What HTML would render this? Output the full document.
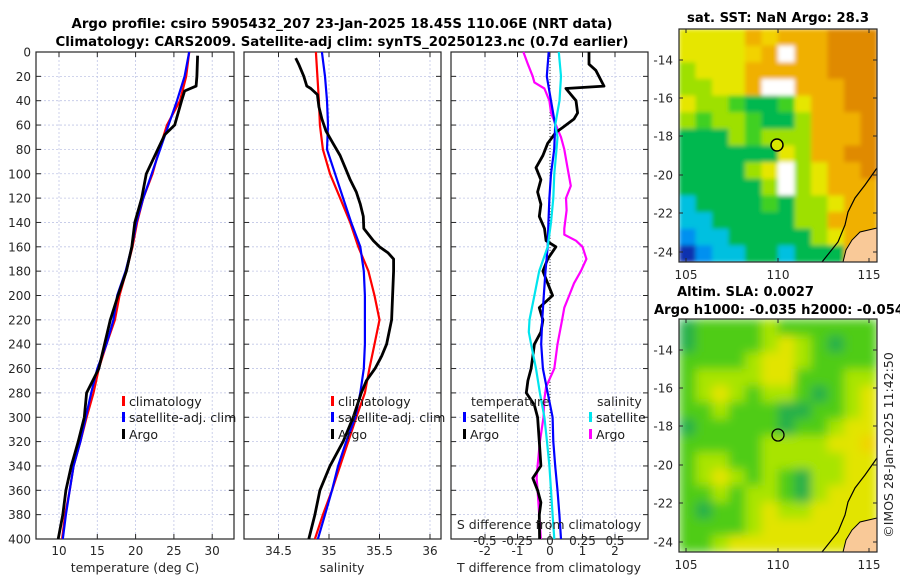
<!DOCTYPE html>
<html><head><meta charset="utf-8">
<style>
html,body{margin:0;padding:0;background:#fff;}
svg{display:block;font-family:"DejaVu Sans","Liberation Sans",sans-serif;}
</style></head>
<body>
<svg id="fig" width="900" height="580" viewBox="0 0 900 580" xmlns="http://www.w3.org/2000/svg">
<defs>
<filter id="soft" x="0" y="0" width="1" height="1"><feGaussianBlur stdDeviation="5" edgeMode="duplicate"/></filter>
<filter id="soft2" x="0" y="0" width="1" height="1"><feGaussianBlur stdDeviation="2" edgeMode="duplicate"/></filter>
<clipPath id="clipSst"><rect x="679" y="29" width="198" height="233"/></clipPath>
<clipPath id="clipSla"><rect x="679" y="319" width="198" height="233"/></clipPath>
</defs>
<rect width="900" height="580" fill="#fff"/>
<text x="342" y="28" font-size="13" font-weight="bold" text-anchor="middle" textLength="541" lengthAdjust="spacingAndGlyphs">Argo profile: csiro 5905432_207 23-Jan-2025 18.45S 110.06E (NRT data)</text>
<text x="342" y="46" font-size="13" font-weight="bold" text-anchor="middle" textLength="573" lengthAdjust="spacingAndGlyphs">Climatology: CARS2009. Satellite-adj clim: synTS_20250123.nc (0.7d earlier)</text>
<g id="charts"></g>
<g id="maps"></g>
<text x="778" y="22" font-size="13" font-weight="bold" text-anchor="middle" textLength="182" lengthAdjust="spacingAndGlyphs">sat. SST: NaN Argo: 28.3</text>
<text x="677" y="296" font-size="13" font-weight="bold" textLength="137" lengthAdjust="spacingAndGlyphs">Altim. SLA: 0.0027</text>
<text x="654" y="314" font-size="13" font-weight="bold" textLength="250" lengthAdjust="spacingAndGlyphs">Argo h1000: -0.035 h2000: -0.054</text>
<text transform="translate(893,445) rotate(-90)" font-size="12.5" fill="#262626" text-anchor="middle">©IMOS 28-Jan-2025 11:42:50</text>
</svg>
<script>
// ---------- data ----------
const depthTick = [0,20,40,60,80,100,120,140,160,180,200,220,240,260,280,300,320,340,360,380,400];
const tempTicks = [10,15,20,25,30];
const salTicks = [34.5,35,35.5,36];
const tdiffTicks = [-2,-1,0,1,2];
const sdiffTicks = [-0.5,-0.25,0,0.25,0.5];
const sdiffLabels = ["-0.5","-0.25","0","0.25","0.5"];

const tArgoD = [3,20,28,32,40,60,68,80,100,120,140,160,180,200,220,260,280,300,320,340,360,380,400];
const tArgo  = [28.1,28.0,27.9,26.4,26.0,25.1,23.8,22.9,21.4,20.8,19.9,19.5,18.8,17.7,16.7,15.2,13.6,13.3,12.5,11.6,10.9,10.5,9.9];
const tClimD = [0,20,40,60,80,100,120,140,160,180,200,220,240,260,280,300,320,340,360,380,400];
const tClim  = [27.0,26.6,25.8,24.1,23.1,22.2,21.0,20.2,19.6,18.8,17.9,17.3,16.2,15.2,14.5,13.6,12.8,11.9,11.4,10.8,10.4];
const tSat   = [27.0,26.4,25.4,24.3,23.2,22.1,21.0,20.1,19.5,18.7,17.6,17.1,16.2,15.0,14.2,13.5,12.8,11.9,11.4,10.9,10.5];

const sArgoD = [5,10,20,28,30,35,45,55,65,75,85,95,105,115,125,135,145,155,160,165,170,180,200,220,240,250,260,270,280,300,320,340,360,380,400];
const sArgo  = [34.67,34.70,34.75,34.78,34.82,34.885,34.90,34.93,34.97,35.04,35.11,35.16,35.21,35.27,35.31,35.34,35.345,35.44,35.50,35.585,35.64,35.64,35.63,35.62,35.57,35.52,35.455,35.37,35.32,35.24,35.14,35.01,34.91,34.86,34.80];
const sClim  = [34.87,34.885,34.90,34.91,34.94,35.01,35.11,35.21,35.29,35.39,35.45,35.50,35.45,35.40,35.355,35.27,35.19,35.11,35.03,34.94,34.86];
const sSat   = [34.93,34.96,34.98,34.99,34.98,35.06,35.14,35.22,35.31,35.345,35.355,35.355,35.355,35.345,35.31,35.26,35.17,35.09,35.03,34.96,34.89];

const dtArgoD = [0,10,15,28,30,40,50,55,62,66,75,85,95,105,115,125,135,145,155,160,170,180,190,200,210,220,230,240,250,260,270,280,290,300,320,340,350,360,370,380,400];
const dtArgo  = [1.2,1.2,1.41,1.66,0.49,0.8,0.85,0.74,0.39,0.18,-0.07,-0.22,-0.43,-0.28,-0.38,-0.28,-0.33,-0.17,-0.12,0.18,-0.07,-0.22,-0.07,0.08,-0.33,-0.22,-0.28,-0.48,-0.53,-0.58,-0.68,-0.73,-0.48,-0.38,-0.33,-0.28,-0.53,-0.38,-0.28,-0.33,-0.32];
const dtSat   = [-0.04,-0.1,0.03,0.16,0.13,0.03,-0.02,-0.05,-0.07,-0.14,-0.19,-0.24,-0.27,-0.22,-0.07,0.08,0.1,0.16,0.23,0.29,0.34];
const dsSatD  = [0,20,40,60,70,80,100,120,140,160,180,200,220,230,240,260,280,300,320,340,360,380,400];
const dsSat   = [0.068,0.085,0.073,0.04,0.058,0.05,0.033,0.025,0.008,-0.018,-0.083,-0.12,-0.158,-0.163,-0.145,-0.108,-0.078,-0.043,-0.023,-0.005,0.008,0.02,0.033];
const dsArgoD = [0,10,20,25,30,40,50,60,70,80,95,110,120,130,145,150,155,160,170,180,190,200,210,220,240,260,275,285,300,320,340,350,360,380,400];
const dsArgo  = [-0.205,-0.17,-0.133,-0.12,-0.043,-0.005,0.008,0.045,0.085,0.11,0.135,0.16,0.123,0.128,0.11,0.11,0.2,0.25,0.28,0.238,0.185,0.148,0.11,0.093,0.058,0.033,-0.03,-0.043,-0.05,-0.078,-0.095,-0.103,-0.095,-0.083,-0.07];

// map grids (12 cols x 14 rows), colour codes
const sstGrid = [
"YYYYOyOOORRR","YYYYyOWOORRR","LYYYOOOOORRR","LLYYOWWOOORR",
"YLLgGGgYOORR","LgLLgGGLOOOR","GGGLgLLLOOOR","GGGGGGYLOORR",
"GGGGLYWLYOOR","GGGGGLWLYOOO","cGGGGgGLLYOO","ccGGGGGLLOOO",
"bccGGGGGLYOO","BbccGGcGGGOO"];
const slaGrid = [
"DGGGGLGGGGGG","DGGGGLYLGDGG","GGGGLYYLGGGG","GLLLLYYGGGLL",
"GLYLGLLGDGLY","GGLGGGDDGGLY","DGGGGGDGGLYY","GGGGGLLLLYYy",
"GLLGGLLLLLYY","GLYLGLGDLLYY","GGLGLLGDLYYY","GDGGLYLLYYYY",
"GGGGLYYYYYYY","GGLYYYYYYYYY"];

// ---------- helpers ----------
const NS="http://www.w3.org/2000/svg";
const charts=document.getElementById('charts');
const mapsG=document.getElementById('maps');
function mk(tag,attrs,parent){const e=document.createElementNS(NS,tag);for(const k in attrs)e.setAttribute(k,attrs[k]);(parent||charts).appendChild(e);return e;}
const Y0=52, YS=487/400;
function yD(d){return Y0+d*YS;}
const panels=[{x0:36,x1:234},{x0:244,x1:441},{x0:451,x1:648}];
function xT(t){return 59+(t-10)*7.66;}
function xS(s){return 329+(s-35)*101;}
function xDT(v){return 550+v*32.5;}
function xDS(v){return 550+v*4*32.5;}

panels.forEach((p,i)=>{
  const g=mk('g',{});
  
  
  depthTick.forEach(d=>{
    const l=mk('line',{x1:p.x0,x2:p.x1,y1:yD(d),y2:yD(d),stroke:'#c0c6e6','stroke-width':0.8,'stroke-dasharray':'2,2'},g);
    
    
    mk('line',{x1:p.x0,x2:p.x0+5,y1:yD(d),y2:yD(d),stroke:'#262626','stroke-width':1},g);
    mk('line',{x1:p.x1-5,x2:p.x1,y1:yD(d),y2:yD(d),stroke:'#262626','stroke-width':1},g);
  });
  const ticks = i===0?tempTicks.map(xT):i===1?salTicks.map(xS):tdiffTicks.map(xDT);
  const labs = i===0?tempTicks:i===1?salTicks:tdiffTicks;
  ticks.forEach((x,j)=>{
    const l=mk('line',{x1:x,x2:x,y1:Y0,y2:yD(400),stroke:'#c0c6e6','stroke-width':0.8,'stroke-dasharray':'2,2'},g);
    
    
    mk('line',{x1:x,x2:x,y1:yD(400)-5,y2:yD(400),stroke:'#262626'},g);
    mk('line',{x1:x,x2:x,y1:Y0,y2:Y0+5,stroke:'#262626'},g);
    const t=mk('text',{x:x,y:555,'font-size':12,fill:'#262626','text-anchor':'middle'},g);
    
    
    t.textContent=labs[j];
  });
  const r=mk('rect',{x:p.x0,y:Y0,width:p.x1-p.x0,height:487,fill:'none',stroke:'#262626','stroke-width':1.2},g);
  
  
});
depthTick.forEach(d=>{
  const t=mk('text',{x:31,y:yD(d)+4.5,'font-size':12,fill:'#262626','text-anchor':'end'});
  
  
  t.textContent=d;
});
const zl=mk('line',{x1:xDT(0),x2:xDT(0),y1:Y0,y2:yD(400),stroke:'#333','stroke-width':1,'stroke-dasharray':'1,2'});



function series(ds,vs,fx,color,w,name){
  const pts=ds.map((d,i)=>fx(vs[i]).toFixed(1)+','+yD(d).toFixed(1)).join(' ');
  const l=mk('polyline',{points:pts,fill:'none',stroke:color,'stroke-width':w,'stroke-linejoin':'round'});
  
  
}
series(tClimD,tClim,xT,'#ff0000',2.2,'temp-climatology-line');
series(tClimD,tSat,xT,'#0000ff',2.2,'temp-satellite-line');
series(tArgoD,tArgo,xT,'#000',2.8,'temp-argo-line');
series(tClimD,sClim,xS,'#ff0000',2.2,'sal-climatology-line');
series(tClimD,sSat,xS,'#0000ff',2.2,'sal-satellite-line');
series(sArgoD,sArgo,xS,'#000',2.8,'sal-argo-line');
series(dsArgoD,dsArgo,xDS,'#ff00ff',2.2,'sdiff-argo-line');
series(dtArgoD,dtArgo,xDT,'#000',2.8,'tdiff-argo-line');
series(tClimD,dtSat,xDT,'#0000ff',2.2,'tdiff-satellite-line');
series(dsSatD,dsSat,xDS,'#00e5ee',2.2,'sdiff-satellite-line');

function label(x,y,txt,name,anchor,size){
  const t=mk('text',{x:x,y:y,'font-size':size||12.5,fill:'#262626','text-anchor':anchor||'start'});
  
  
  t.textContent=txt;return t;
}
function legend(x,y,color,txt,name){
  const g=mk('g',{});
  
  
  mk('rect',{x:x,y:y-10,width:3,height:10,fill:color},g);
  const t=mk('text',{x:x+7,y:y,'font-size':12.5,fill:'#1a1a1a'},g);
  t.textContent=txt;
}
legend(122,406,'#ff0000','climatology','legend-temp-climatology');
legend(122,422,'#0000ff','satellite-adj. clim','legend-temp-satellite');
legend(122,439,'#000','Argo','legend-temp-argo');
legend(331,406,'#ff0000','climatology','legend-sal-climatology');
legend(331,422,'#0000ff','satellite-adj. clim','legend-sal-satellite');
legend(331,439,'#000','Argo','legend-sal-argo');
label(471,406,'temperature','legend-temperature-header');
legend(463,422,'#0000ff','satellite','legend-tdiff-satellite');
legend(463,439,'#000','Argo','legend-tdiff-argo');
label(597,406,'salinity','legend-salinity-header');
legend(589,422,'#00e5ee','satellite','legend-sdiff-satellite');
legend(589,439,'#ff00ff','Argo','legend-sdiff-argo');
label(549,529,'S difference from climatology','sdiff-axis-title','middle',12.5);
sdiffTicks.forEach((v,i)=>label(xDS(v),545,sdiffLabels[i],'sdiff-tick-label','middle',12));
label(135,572,'temperature (deg C)','x-axis-title-temperature','middle');
label(342,572,'salinity','x-axis-title-salinity','middle');
label(549,572,'T difference from climatology','x-axis-title-tdiff','middle');

// ---------- maps ----------
const sstCol={Y:'#e6e600',y:'#f2d200',O:'#f0b000',R:'#e08a00',L:'#9ee000',g:'#40d020',G:'#00b850',c:'#00c0e0',b:'#0090f0',B:'#1030b0',W:'#ffffff'};
const slaCol={D:'#28b048',G:'#50cc18',L:'#a8e400',Y:'#e2e400',y:'#f0d400'};
function drawMap(grid,cols,top,name,filt,clip){
  const g=mk('g',{},mapsG);
  
  
  const X0=679,W=198,H=233,cw=W/12,ch=H/14;
  const cg=mk('g',{'clip-path':'url(#'+clip+')'},g);
  const cells=mk('g',{filter:'url(#'+filt+')'},cg);
  grid.forEach((row,r)=>{for(let c=0;c<12;c++){
    const cell=mk('rect',{x:(X0+c*cw).toFixed(2),y:(top+r*ch).toFixed(2),width:(cw+0.6).toFixed(2),height:(ch+0.6).toFixed(2),fill:cols[row[c]]},cells);
    
    
  }});
  const o=top-29;
  const land2=mk('polygon',{points:`877,${228+o} 860,${232+o} 852,${240+o} 846,${250+o} 843,${262+o} 877,${262+o}`,fill:'#f9c998'},g);
  
  
  const coast=mk('polyline',{points:`877,${168+o} 865,${185+o} 855,${198+o} 848,${212+o} 845,${225+o} 838,${242+o} 822,${262+o}`,fill:'none',stroke:'#000','stroke-width':1.2},g);
  
  
  mk('polyline',{points:`877,${228+o} 860,${232+o} 852,${240+o} 846,${250+o} 843,${262+o}`,fill:'none',stroke:'#000','stroke-width':1},g);
  mk('rect',{x:X0,y:top,width:W,height:H,fill:'none',stroke:'#262626','stroke-width':1.2},g);
  const lats=[-14,-16,-18,-20,-22,-24], latY=[60,98,136,175,213,252];
  lats.forEach((la,i)=>{
    const yy=latY[i]+o;
    mk('line',{x1:X0,x2:X0+4,y1:yy,y2:yy,stroke:'#262626'},g);
    mk('line',{x1:X0+W-4,x2:X0+W,y1:yy,y2:yy,stroke:'#262626'},g);
    const t=mk('text',{x:673,y:yy+4.5,'font-size':12,fill:'#262626','text-anchor':'end'},g);
    
    
    t.textContent=la;
  });
  [[105,686],[110,778],[115,869]].forEach(([lo,x])=>{
    mk('line',{x1:x,x2:x,y1:top+H-4,y2:top+H,stroke:'#262626'},g);
    mk('line',{x1:x,x2:x,y1:top,y2:top+4,stroke:'#262626'},g);
    const t=mk('text',{x:x,y:top+H+17,'font-size':12,fill:'#262626','text-anchor':'middle'},g);
    
    
    t.textContent=lo;
  });
}
drawMap(sstGrid,sstCol,29,'sst-map','soft2','clipSst');
drawMap(slaGrid,slaCol,319,'sla-map','soft','clipSla');
const m1=mk('circle',{cx:777,cy:145,r:6,fill:'#d8e800',stroke:'#000','stroke-width':1.5},mapsG);


const m2=mk('circle',{cx:778,cy:435,r:6,fill:'none',stroke:'#000','stroke-width':1.3},mapsG);


</script>
</body></html>
